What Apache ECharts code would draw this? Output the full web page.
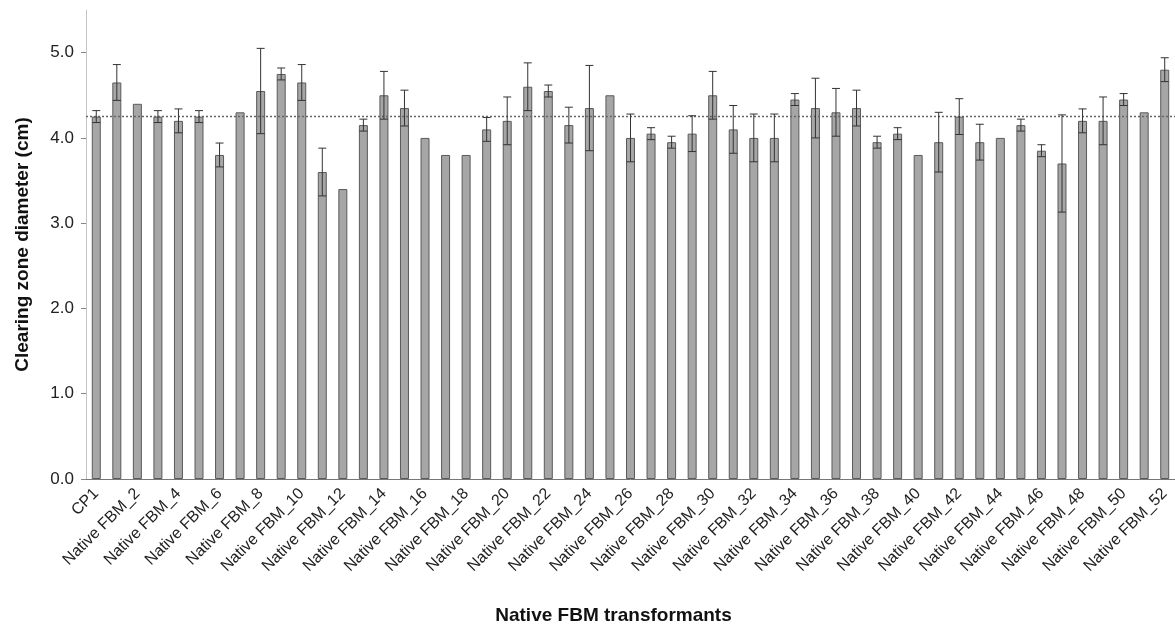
<!DOCTYPE html>
<html>
<head>
<meta charset="utf-8">
<script src="https://cdn.jsdelivr.net/npm/echarts@6/dist/echarts.min.js"></script>
<style>
html,body{margin:0;padding:0;background:#fff;}
#chart{width:1175px;height:630px;}
</style>
</head>
<body>
<div id="chart"></div>
<script>
const categories = ['CP1','Native FBM_1','Native FBM_2','Native FBM_3','Native FBM_4','Native FBM_5','Native FBM_6','Native FBM_7','Native FBM_8','Native FBM_9','Native FBM_10','Native FBM_11','Native FBM_12','Native FBM_13','Native FBM_14','Native FBM_15','Native FBM_16','Native FBM_17','Native FBM_18','Native FBM_19','Native FBM_20','Native FBM_21','Native FBM_22','Native FBM_23','Native FBM_24','Native FBM_25','Native FBM_26','Native FBM_27','Native FBM_28','Native FBM_29','Native FBM_30','Native FBM_31','Native FBM_32','Native FBM_33','Native FBM_34','Native FBM_35','Native FBM_36','Native FBM_37','Native FBM_38','Native FBM_39','Native FBM_40','Native FBM_41','Native FBM_42','Native FBM_43','Native FBM_44','Native FBM_45','Native FBM_46','Native FBM_47','Native FBM_48','Native FBM_49','Native FBM_50','Native FBM_51','Native FBM_52'];
const values = [4.25,4.65,4.40,4.25,4.20,4.25,3.80,4.30,4.55,4.75,4.65,3.60,3.40,4.15,4.50,4.35,4.00,3.80,3.80,4.10,4.20,4.60,4.55,4.15,4.35,4.50,4.00,4.05,3.95,4.05,4.50,4.10,4.00,4.00,4.45,4.35,4.30,4.35,3.95,4.05,3.80,3.95,4.25,3.95,4.00,4.15,3.85,3.70,4.20,4.20,4.45,4.30,4.80];
const errors = [0.07,0.21,0,0.07,0.14,0.07,0.14,0,0.5,0.07,0.21,0.28,0,0.07,0.28,0.21,0,0,0,0.14,0.28,0.28,0.07,0.21,0.5,0,0.28,0.07,0.07,0.21,0.28,0.28,0.28,0.28,0.07,0.35,0.28,0.21,0.07,0.07,0,0.35,0.21,0.21,0,0.07,0.07,0.57,0.14,0.28,0.07,0,0.14];
const referenceValue = 4.25;
const yTicks = [0,1,2,3,4,5];

const FONT = 'Arial, "Liberation Sans", sans-serif';
const errData = values.map((v,i)=>[i, v-errors[i], v+errors[i], errors[i]]);

const chart = echarts.init(document.getElementById('chart'), null, {renderer:'canvas'});
chart.setOption({
  animation:false,
  backgroundColor:'#fff',
  grid:{left:86, right:0, top:10, bottom:148, containLabel:false},
  xAxis:{
    type:'category',
    data:categories,
    boundaryGap:true,
    name:'Native FBM transformants',
    nameLocation:'middle',
    nameGap:127,
    nameTextStyle:{fontFamily:FONT, fontSize:19, fontWeight:'bold', color:'#111', padding:[0,34,0,0]},
    axisLine:{lineStyle:{color:'#777', width:1}},
    axisTick:{show:false},
    axisLabel:{interval:1, rotate:45, fontFamily:FONT, fontSize:16, color:'#222', margin:12}
  },
  yAxis:{
    type:'value',
    min:0, max:5.5,
    name:'Clearing zone diameter (cm)',
    nameLocation:'middle',
    nameGap:54,
    nameTextStyle:{fontFamily:FONT, fontSize:19, fontWeight:'bold', color:'#111'},
    axisLine:{show:true, lineStyle:{color:'#c4c4c4', width:1}},
    axisTick:{show:true, length:5, customValues:yTicks, lineStyle:{color:'#888'}},
    axisLabel:{customValues:yTicks, fontFamily:FONT, fontSize:17, color:'#222', margin:12, formatter:v=>v.toFixed(1)},
    splitLine:{show:false}
  },
  series:[
    {
      type:'bar',
      data:values,
      barWidth:9,
      itemStyle:{color:'#a6a6a6', borderColor:'#5a5a5a', borderWidth:1},
      markLine:{
        silent:true,
        symbol:['none','none'],
        label:{show:false},
        lineStyle:{type:[2,2], color:'#666', width:1.3},
        data:[{yAxis:referenceValue}]
      },
      z:2
    },
    {
      type:'custom',
      data:errData,
      z:5,
      renderItem:function(params, api){
        if (api.value(3) <= 0) return null;
        const lo = api.coord([api.value(0), api.value(1)]);
        const hi = api.coord([api.value(0), api.value(2)]);
        const hw = 4;
        const st = {stroke:'#333', lineWidth:1};
        return {type:'group', children:[
          {type:'line', shape:{x1:hi[0], y1:hi[1], x2:lo[0], y2:lo[1]}, style:st},
          {type:'line', shape:{x1:hi[0]-hw, y1:hi[1], x2:hi[0]+hw, y2:hi[1]}, style:st},
          {type:'line', shape:{x1:lo[0]-hw, y1:lo[1], x2:lo[0]+hw, y2:lo[1]}, style:st}
        ]};
      }
    }
  ]
});
</script>
</body>
</html>
